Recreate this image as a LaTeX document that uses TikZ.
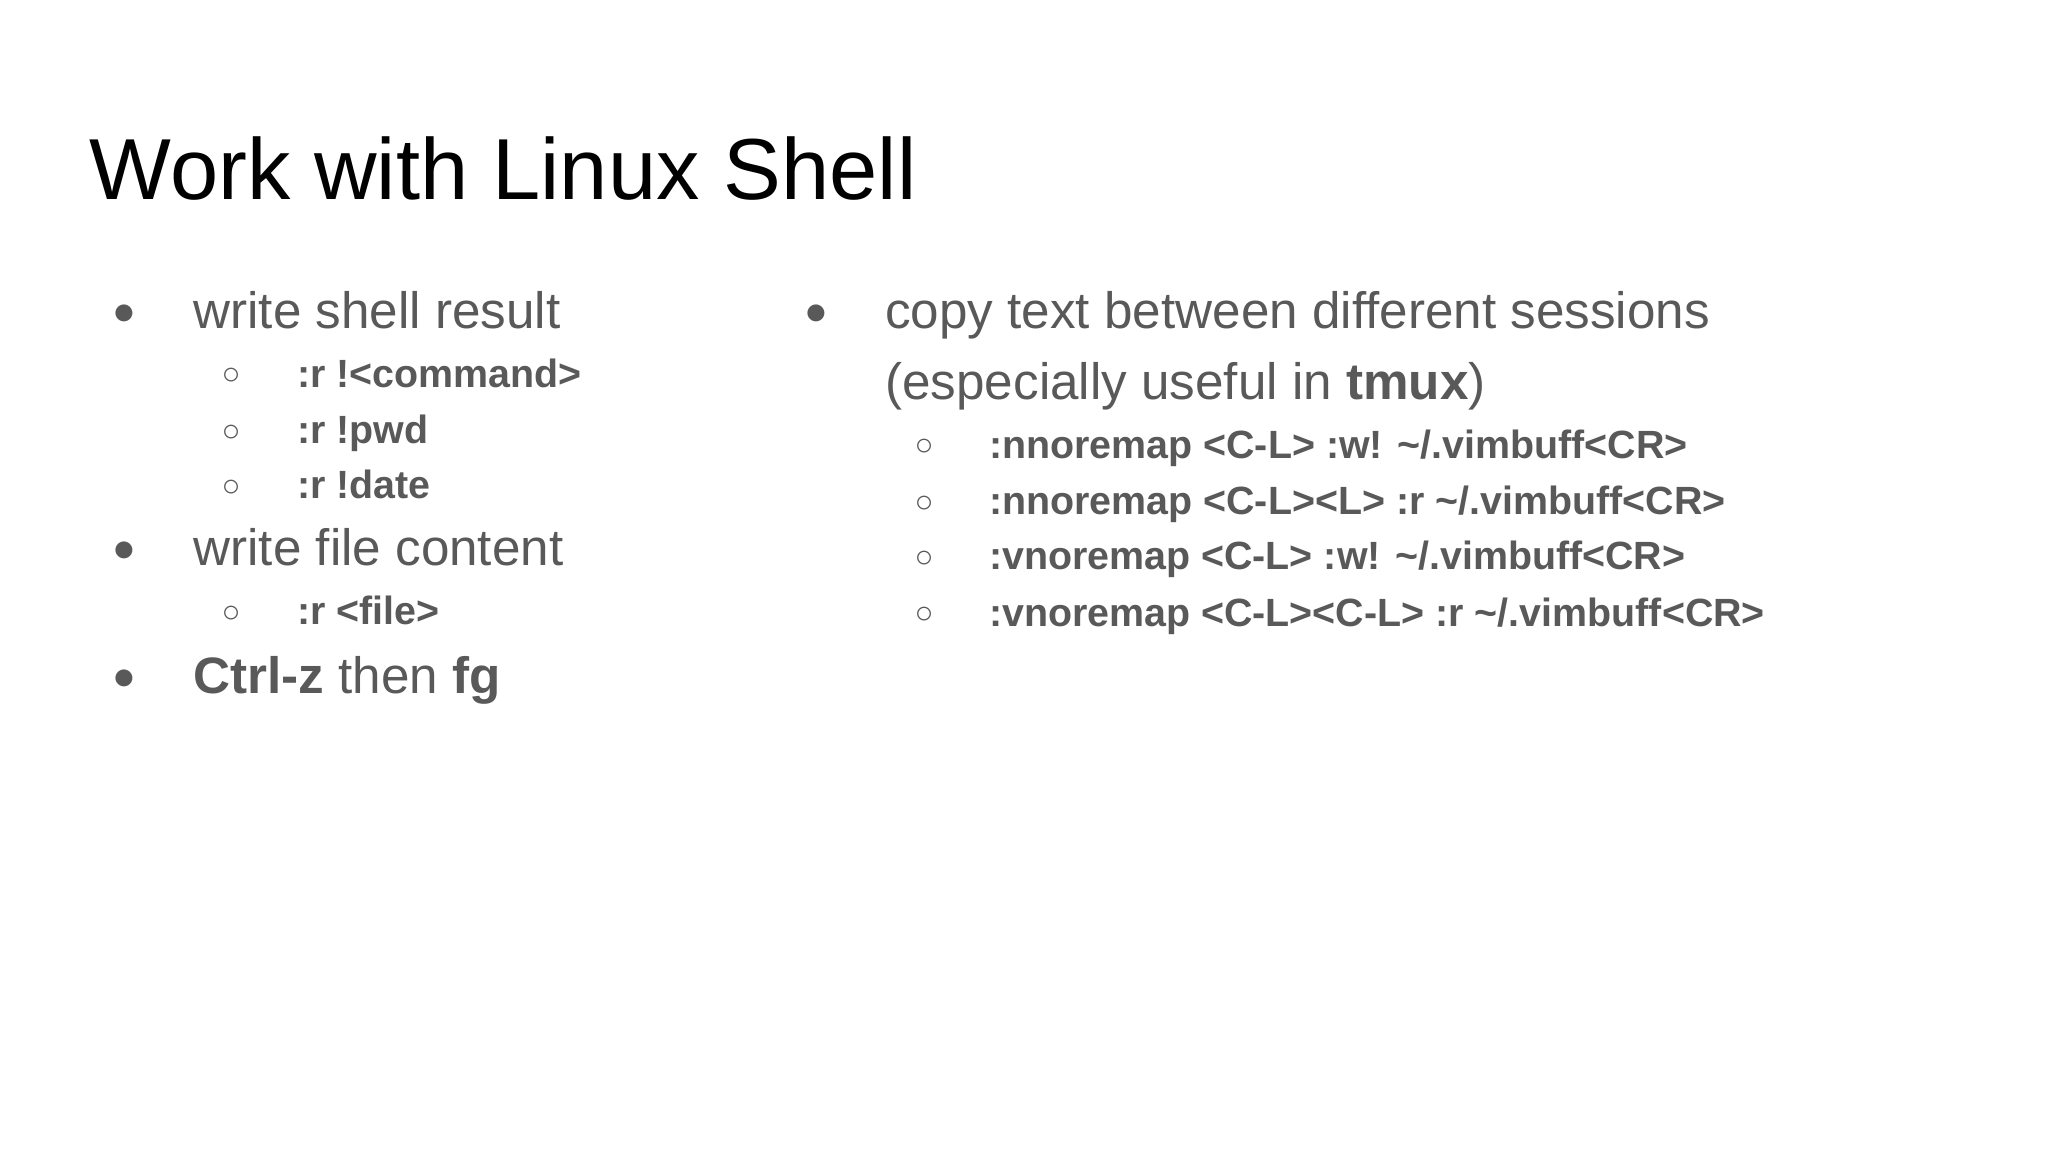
\documentclass[tikz,border=0pt]{standalone}
\usepackage{fontspec}
\setmainfont{Liberation Sans}
\definecolor{txt}{HTML}{595959}
\begin{document}
\begin{tikzpicture}[x=0.5pt,y=-0.5pt,
  title/.style={anchor=base west,inner sep=0,font=\fontsize{33}{40}\selectfont,text=black},
  lvlone/.style={anchor=base west,inner sep=0,font=\fontsize{19.5}{24}\selectfont,text=txt},
  lvltwo/.style={anchor=base west,inner sep=0,font=\fontsize{15}{18}\selectfont\bfseries,text=txt},
  dotone/.style={anchor=base,inner sep=0,font=\fontsize{15}{18}\selectfont,text=txt},
  dottwo/.style={anchor=base,inner sep=0,font=\fontsize{12}{14}\selectfont,text=txt}]
\useasboundingbox (0,0) rectangle (1560,877.5);
\node[title] (t) at (68,152) {Work with Linux Shell};
% left column
\node[dotone] (b1) at (95,247) {●};
\node[lvlone] (l1) at (147,250) {write shell result};
\node[dottwo] (c1) at (176,293) {○};
\node[lvltwo] (s1) at (226,295) {:r !<command>};
\node[dottwo] (c2) at (176,336) {○};
\node[lvltwo] (s2) at (226,338) {:r !pwd};
\node[dottwo] (c3) at (176,378) {○};
\node[lvltwo] (s3) at (226,380) {:r !date};
\node[dotone] (b2) at (95,428) {●};
\node[lvlone] (l2) at (147,431) {write file content};
\node[dottwo] (c4) at (176,474) {○};
\node[lvltwo] (s4) at (226,476) {:r <file>};
\node[dotone] (b3) at (95,525) {●};
\node[lvlone] (l3) at (147,528) {\textbf{Ctrl-z} then \textbf{fg}};
% right column
\node[dotone] (b4) at (622,247) {●};
\node[lvlone] (r1) at (674,250) {copy text between different sessions};
\node[lvlone] (r2) at (674,304) {(especially useful in \textbf{tmux})};
\node[dottwo] (c5) at (704,347) {○};
\node[lvltwo] (s5) at (753,349) {:nnoremap <C-L> :w! \textasciitilde/.vimbuff<CR>};
\node[dottwo] (c6) at (704,390) {○};
\node[lvltwo] (s6) at (753,392) {:nnoremap <C-L><L> :r \textasciitilde/.vimbuff<CR>};
\node[dottwo] (c7) at (704,432) {○};
\node[lvltwo] (s7) at (753,434) {:vnoremap <C-L> :w! \textasciitilde/.vimbuff<CR>};
\node[dottwo] (c8) at (704,475) {○};
\node[lvltwo] (s8) at (753,477) {:vnoremap <C-L><C-L> :r \textasciitilde/.vimbuff<CR>};
\end{tikzpicture}
\end{document}
